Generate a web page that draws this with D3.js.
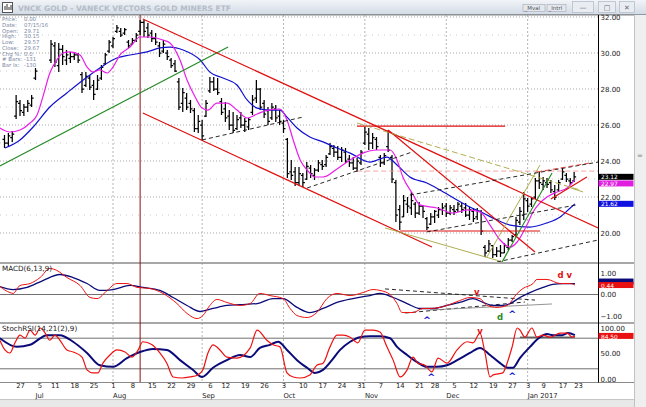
<!DOCTYPE html>
<html><head><meta charset="utf-8">
<script src="https://cdn.jsdelivr.net/npm/d3@7"></script>
<style>
html,body{margin:0;padding:0;background:#fff;overflow:hidden}
svg{display:block;font-family:"DejaVu Sans",Verdana,sans-serif}
</style></head><body>
<svg id="c" width="646" height="407"></svg>
<script>
// ---------- DATA ----------
const calMonths = ["2016-06","2016-07","2016-08","2016-09","2016-10","2016-11","2016-12","2017-01"];
const calDays = [
 [21,22,23,24,27,28,29,30],
 [1,5,6,7,8,11,12,13,14,15,18,19,20,21,22,25,26,27,28,29],
 [1,2,3,4,5,8,9,10,11,12,15,16,17,18,19,22,23,24,25,26,29,30,31],
 [1,2,6,7,8,9,12,13,14,15,16,19,20,21,22,23,26,27,28,29,30],
 [3,4,5,6,7,10,11,12,13,14,17,18,19,20,21,24,25,26,27,28,31],
 [1,2,3,4,7,8,9,10,11,14,15,16,17,18,21,22,23,25,28,29,30],
 [1,2,5,6,7,8,9,12,13,14,15,16,19,20,21,22,23,27,28,29,30],
 [3,4,5,6,9,10,11,12,13,17,18,19,20,23]
];
const tradingDays = calMonths.flatMap((m,k)=>calDays[k].map(d=>m+"-"+String(d).padStart(2,"0")));
const firstBar = -4; // bar number of the first trading day (Jun 27 2016 = 0)

const barOpen = [25.2,25.0,25.3,26.5, 27.2,26.7,27.0,27.1, 28.6,null,null,null,29.6,
 30.4,29.3,30.2,29.6,29.7, 29.8,29.9,28.8,28.2,28.6, 28.2,28.0,28.6,29.4,30.1,
 30.4,31.2,31.2,31.1,30.6, 30.5,30.7,31.2,31.7,31.4, 31.1,30.8,30.4,30.1,30.0,
 29.6,29.4,28.4,27.2,27.5, 27.2,26.8,25.8, 26.0,26.5, 27.9,28.4,28.0,27.3,
 26.9,26.5,26.0,25.8,26.4, 26.0,25.9,26.7,27.5,28.0, 27.2,26.8,26.4,26.9,26.5,
 26.1,25.2,23.4,23.4,22.8, 23.2,23.0,23.6,23.2,23.5, 23.8,23.8,24.4,24.7,24.5,
 24.2,24.5,24.1,23.9,23.6, 23.9, 25.0,25.5,25.0,25.2, 24.2,23.9,24.8,24.2,22.8,
 21.3,20.9,21.6,21.4,21.6, 21.1,21.5,20.8, 20.5, 20.9,21.0,21.3, 21.5,21.1,
 21.3,21.3,21.5,21.4,21.0, 21.2,20.9,21.2,19.2,19.0, 19.3,18.8,19.0,18.9,19.2,
 19.6,19.9,20.6,21.0, 21.8,21.6,22.0,22.9, 22.7,22.8,22.8,22.3,22.4, 23.0,23.2,22.9,22.9];
const barHigh = [25.44,25.55,25.67,27.67, 27.39,27.17,27.39,27.67, 29.17,null,null,null,30.72,
 30.61,30.55,30.44,30.17,30.06, 30.06,30.00,28.94,28.94,28.78, 28.50,28.78,29.33,30.00,30.72,
 30.89,31.56,31.39,31.39,30.72, 30.83,31.11,31.83,31.83,31.67, 31.28,31.11,30.61,30.72,30.17,
 29.72,29.61,28.61,28.06,27.78, 27.39,26.94,26.56, 26.28,27.39, 28.67,28.67,28.61,27.50,
 27.28,26.83,26.72,26.56,26.72, 26.39,26.39,27.67,28.50,28.06, 27.39,27.00,27.22,27.11,26.83,
 26.28,25.28,24.06,23.67,23.67, 23.33,23.94,23.78,23.61,24.06, 24.06,24.33,25.00,24.89,24.83,
 24.78,24.72,24.33,24.22,24.17, 24.61, 25.89,25.83,25.56,25.33, 24.33,24.44,25.72,24.33,22.94,
 21.56,22.11,22.00,22.28,21.72, 21.72,21.56,20.89, 21.11, 21.28,21.44,21.67, 21.67,21.56,
 21.56,21.72,21.67,21.67,21.44, 21.39,21.39,21.28,19.33,19.61, 19.33,19.22,19.33,19.44,19.72,
 19.89,20.89,21.44,22.28, 21.94,22.00,23.06,23.39, 23.11,23.06,22.94,22.67,22.94, 23.61,23.33,23.06,23.39];
const barLow = [24.72,24.83,25.06,26.33, 26.50,26.50,26.72,27.00, 28.50,null,null,null,29.44,
 29.22,28.94,29.33,29.33,29.44, 29.61,29.44,27.78,28.11,27.94, 27.39,27.94,28.50,29.33,30.00,
 30.28,31.11,30.89,31.00,30.28, 30.44,30.61,31.00,30.89,30.83, 30.61,30.44,29.78,30.00,29.61,
 29.17,28.94,26.83,26.72,26.83, 26.67,25.61,25.56, 25.17,26.44, 27.78,27.89,27.67,26.56,
 26.17,25.72,25.56,25.72,25.83, 25.61,25.72,26.56,27.22,26.83, 26.39,26.00,26.28,26.17,26.00,
 25.56,23.06,22.94,22.61,22.67, 22.56,22.94,23.06,22.94,23.39, 23.50,23.67,24.33,24.22,24.06,
 23.94,23.89,23.67,23.50,23.39, 23.78, 24.89,24.61,24.67,24.61, 23.67,23.78,24.50,22.78,20.61,
 20.17,20.89,21.11,21.00,20.83, 21.00,20.83,20.17, 20.44, 20.56,20.83,21.00, 20.89,21.00,
 21.00,21.17,21.11,20.89,20.72, 20.61,20.72,19.89,18.67,18.94, 18.61,18.67,18.67,18.89,19.06,
 19.50,19.78,20.44,20.72, 21.17,21.44,21.89,22.44, 22.39,22.50,22.22,21.83,22.28, 22.94,22.83,22.67,22.83];
const barClose = [25.0,25.4,25.5,27.3, 26.8,27.0,27.2,27.5, 29.0,null,null,null,30.5,
 29.5,30.2,29.8,29.9,29.8, 29.9,29.6,28.0,28.7,28.1, 27.7,28.5,29.2,29.9,30.6,
 30.8,31.4,31.0,31.3,30.4, 30.7,31.0,31.7,31.2,31.0, 30.8,30.6,30.0,30.5,29.8,
 29.3,29.0,27.0,27.8,27.0, 26.9,25.8,26.2, 25.4,27.2, 28.4,28.0,27.8,26.7,
 26.4,26.0,25.7,26.3,26.0, 26.2,26.3,27.4,28.0,27.0, 26.6,26.2,27.0,26.4,26.2,
 25.8,23.3,23.2,22.8,23.3, 22.8,23.7,23.3,23.5,23.9, 23.7,24.2,24.8,24.5,24.2,
 24.6,24.0,23.9,23.6,24.0, 24.5, 25.6,25.0,25.3,24.8, 23.9,24.3,24.6,23.0,21.0,
 20.6,21.8,21.5,21.8,21.1, 21.5,21.2,20.3, 20.9, 21.2,21.3,21.4, 21.1,21.4,
 21.2,21.6,21.3,21.0,21.3, 20.8,21.2,20.1,18.9,19.4, 18.8,19.0,18.9,19.3,19.6,
 19.8,20.7,21.2,21.9, 21.5,21.9,22.9,22.8, 22.9,22.7,22.4,22.0,22.8, 23.4,23.0,22.8,23.12];

// moving averages (bar number, value)
const maFastAt = [-5.2,-2.6,0,2.6,4.4,5.9,7.7,9.5,11.1,12.9,15.5,17.3,18.8,20.6,22.5,24,25.8,28.4,31,33.5,36.9,38.7,41.3,43.1,45.2,47,48.5,50.8,53.4,56,58.6,61.2,64,67.1,68.9,70.5,72.3,74.1,76.1,78.2,81.8,85.2,88.5,92.1,95.5,97.3,98.8,101.2,103.2,107.6,111.7,115.4,118.7,121.3,123.9,126.5,128.3,130.8,132.4,134.2,136,138.6,141.2,143.2];
const maFastVal = [25.83,25.61,25.72,26.11,26.56,27.56,28.89,29.61,30.0,30.06,29.89,29.22,28.94,29.06,28.89,29.22,29.89,30.33,30.89,30.89,30.72,30.56,29.61,28.5,27.56,26.94,26.83,27.22,27.22,26.83,26.39,26.61,26.83,26.89,26.28,25.17,24.06,23.5,23.11,23.11,23.56,24.06,24.44,24.61,24.61,24.06,23.11,22.22,21.56,21.39,21.11,21.28,21.17,20.44,19.61,19.22,19.5,20.44,21.17,21.67,22.0,22.28,22.5,22.97];
const maSlowAt = [-3.9,0,3.4,7.7,12.1,16.3,20.6,25,28.4,32.8,36.1,38.7,42.1,46.5,49,52.4,56,58.6,61.2,64.5,67.1,68.9,71.5,74.8,78.2,81.8,85.2,90.3,94.7,97.3,100.6,105,108.4,112.8,116.1,119.5,123.1,126.5,131.6,136,139.4,142,143.2];
const maSlowVal = [24.72,25.17,25.89,27.0,27.78,28.5,29.17,29.72,29.89,30.06,30.28,30.33,30.17,29.61,28.94,28.61,28.22,27.39,26.94,26.83,26.83,26.44,25.83,25.33,25.06,24.72,24.44,23.94,24.22,23.78,23.11,22.78,22.39,21.83,21.44,21.11,20.72,20.44,20.33,20.56,20.89,21.39,21.62];

// MACD(6,13,9)
const macdAt = [-5.2,-2.6,-1.8,0,2.6,5.2,7.7,9.5,12.1,15.5,18.1,19.9,22.5,25,27.6,30.2,33.5,36.9,40.5,43.1,45.7,47.2,49,50.8,53.4,56.8,59.4,61.9,64.5,67.9,69.7,71.5,74.1,76.6,79.2,81.8,85.2,88.5,91.1,92.9,95.5,97.3,98.6,101.4,104,105.8,108.4,110.2,113.5,116.1,118.7,120.5,123.1,125.7,128.3,129.8,132.4,133.4,136,139.4,142,143.2];
const macdVal = [0.37,0.09,0.05,0.42,0.51,0.79,1.21,1.12,0.79,0.42,-0.14,-0.19,0.19,0.51,0.51,0.33,0.28,0.05,-0.42,-0.88,-1.12,-0.98,-0.51,-0.23,-0.37,-0.51,-0.42,0.05,-0.05,-0.19,-0.65,-0.98,-1.07,-0.84,-0.19,0.05,-0.05,0.09,0.23,0.19,0,-0.42,-0.84,-0.84,-0.65,-0.65,-0.6,-0.51,-0.28,-0.14,-0.19,-0.51,-0.6,-0.51,0.05,0.28,0.51,0.7,0.7,0.51,0.51,0.44];
const signalAt = [-5.2,-1.8,1.8,5.9,10.3,13.7,17.3,20.6,24,28.4,31.7,36.1,39.5,43.1,46.5,49.8,53.4,56.8,61.2,65.3,67.9,71.5,74.8,78.2,81.8,85.9,90.3,92.9,96.3,99.9,103.2,106.6,110.2,113.5,116.9,119.5,122.1,124.6,126.5,129,131.6,135,137.5,140.1,143.2];
const signalVal = [0.37,0.23,0.33,0.65,0.93,0.79,0.51,0.19,0.23,0.42,0.33,0.19,-0.14,-0.51,-0.79,-0.65,-0.51,-0.47,-0.42,-0.19,-0.19,-0.6,-0.84,-0.65,-0.37,-0.19,-0.05,0.05,-0.14,-0.42,-0.65,-0.65,-0.51,-0.37,-0.19,-0.37,-0.51,-0.51,-0.42,-0.14,0.09,0.33,0.47,0.51,0.51];

// StochRSI(14,21(2),9)
const stFastAt = [-5.2,-3.9,-2.6,-1.3,0,1.3,2.6,3.9,5.2,6.5,7.7,9,10.3,12.1,13.7,16,17.3,18.8,20.1,21.4,23.2,25,27.1,28.9,30.5,31.7,34.1,36.1,37.9,39.5,41.8,43.9,45.9,47.2,48.5,49.8,51.6,53.4,56,59.4,61.2,63.7,65.3,67.1,68.9,70.5,72.3,74.8,76.6,78.2,80,81.8,83.4,85.2,87.2,89,91.1,92.9,94.7,96.3,98.1,99.9,101.4,102.7,104.5,106.3,107.9,110.2,112.8,115.4,116.9,118.7,120,121.3,122.1,124.6,125.7,127,128.3,129,130.3,132.1,133.4,135,136.8,139.4,141.2,142.5,143.2];
const stFastVal = [76,57,51,71,86,80,96,86,100,90,76,86,76,57,53,43,18,12,12,31,47,57,53,43,57,73,67,51,31,4,2,4,8,18,51,67,57,43,41,61,96,76,67,63,12,4,2,8,27,31,63,86,86,82,71,96,96,92,63,37,4,18,43,31,27,14,41,31,57,73,71,90,51,4,8,12,31,63,100,96,82,100,82,86,82,90,90,82,84.5];
const stSlowAt = [-5.2,-0.8,2.6,7,10.3,13.7,17.3,20.6,24,27.6,31,34.3,37.9,41.3,44.6,47,49.8,53.4,56.8,59.4,61.9,64.5,66.6,68.9,71.5,74.1,76.1,78.2,80.5,82.6,85.2,87.7,90.3,92.9,95.5,97.3,99.9,102.5,105,107.6,110.2,112.8,116.1,118.7,121.3,123.9,125.9,127.2,129,131.6,134.2,136,137.5,139.9,141.4,143.2];
const stSlowVal = [80,63,67,86,86,73,51,27,24,41,53,59,57,37,18,4,22,37,47,43,61,67,73,57,37,22,12,18,37,57,73,82,84,84,80,63,47,33,24,24,27,37,51,61,47,31,22,22,41,63,82,88,86,86,90,86];

// drawn trend lines [bar1, price1, bar2, price2]
const priceLines = [
 [-5.2,23.72,53.7,30.33],[31.7,31.89,149.2,20.28],[31.7,26.67,106.3,19.22],[95,25.72,132.9,18.94],
 [87,25.94,125.2,25.94],[98.1,20.11,134.2,20.11],[87,23.44,149.2,23.44],[87,26.11,144.5,22.39],
 [94.2,20.28,124.6,18.39],[120.5,18.67,134.2,23.78],[124.4,18.39,137.3,23.33],[47,25.17,73,26.44],
 [74.1,22.5,101.2,24.5],[100.6,22.11,149.2,23.94],[105,20.06,143.7,21.56],[123.1,18.39,149.2,19.61],
 [133.4,23.39,147.1,23.89],[137,21.89,146.3,23.11],[141.4,22.56,145.3,22.28]];
const priceLineKind = ["green","red","red","red","red","red","pink","oliveDash","olive","olive","green",
 "blackDash","blackDash","blackDash","blackDash","blackDash","redDash","red","olive"];
const macdLines = [[94.2,0.26,132.9,-0.26],[99.4,-0.86,130.3,-0.35],[105.8,-0.72,137.3,-0.44]];
const macdLineKind = ["blackDash","blackDash","grey"];
const stochLines = [[129,82,143.2,82]];
const markerBar = 31; // vertical marker (Aug 10 2016)

const macdMarkAt = [105,117.9,123.9,127,140.6], macdMarkVal = [-1.09,0.12,-1.05,-0.81,0.91],
      macdMarkText = ["^","v","d","^","d v"], macdMarkKind = ["blue","red","green","blue","red"];
const stMarkAt = [106.1,118.7,127], stMarkVal = [7,94,10], stMarkText = ["^","v","^"], stMarkKind = ["blue","red","blue"];

const priceTicks = [20,22,24,26,28,30,32];
const macdTicks = [-1,0,1];
const stochTicks = [0,50,100];
const tickDates = ["2016-06-27","2016-07-05","2016-07-11","2016-07-18","2016-07-25","2016-08-01","2016-08-08","2016-08-15","2016-08-22","2016-08-29","2016-09-06","2016-09-12","2016-09-19","2016-09-26","2016-10-03","2016-10-10","2016-10-17","2016-10-24","2016-10-31","2016-11-07","2016-11-14","2016-11-21","2016-11-28","2016-12-05","2016-12-12","2016-12-19","2016-12-27","2017-01-03","2017-01-09","2017-01-17","2017-01-23"];
const tickLabels = ["27","5","11","18","25","1","8","15","22","29","6","12","19","26","3","10","17","24","31","7","14","21","28","5","12","19","27","3","9","17","23"];
const monthDates = ["2016-07-01","2016-08-01","2016-09-01","2016-10-03","2016-11-01","2016-12-01","2017-01-03"];
const monthLabels = ["Jul","Aug","Sep","Oct","Nov","Dec","Jan 2017"];
const gridMonths = ["2016-08-01","2016-09-01","2016-10-03","2016-11-01","2016-12-01","2017-01-03"];

const lastClose = 23.12, lastFast = 22.97, lastSlow = 21.62, lastMacd = 0.44, lastSignal = 0.51, lastStoch = 84.5;
const infoLabels = ["Price","Date","Open","High","Low","Close","Chg %","# Bars","Bar Ix"];
const infoValues = ["0.00","07/15/16","29.71","30.15","29.57","29.67","0.0","-131","-130"];
const titleText = "VNCK GOLD - VANECK VECTORS GOLD MINERS ETF";

// ---------- LAYOUT ----------
const PR = 598; // right edge of plot
const x = d3.scaleLinear().domain([firstBar, tradingDays.length - 1 + firstBar]).range([4.5, 578]);
const barNo = d => tradingDays.indexOf(d) + firstBar;
const yP = d3.scaleLinear().domain([20,32]).range([233,17]);
const yM = d3.scaleLinear().domain([-1,1]).range([316,273]);
const yS = d3.scaleLinear().domain([0,100]).range([379,328]);

const COL = {red:"#e01010", green:"#268a26", olive:"#a6a53c", oliveDash:"#a6a53c", pink:"#f29a9a",
  blackDash:"#111", redDash:"#d83030", grey:"#888", blue:"#1010d0", magenta:"#e81ee8", navy:"#0a0a78"};
const DASH = {oliveDash:"6,3", pink:"5,3", blackDash:"4,3", redDash:"5,3"};

const svg = d3.select("#c");
const defs = svg.append("defs");
const g1 = defs.append("linearGradient").attr("id","tg").attr("x1",0).attr("y1",0).attr("x2",0).attr("y2",1);
g1.append("stop").attr("offset","0%").attr("stop-color","#f1f4f8");
g1.append("stop").attr("offset","100%").attr("stop-color","#d2dae4");
[["cp",15,247],["cm",264,58],["cs",324,58]].forEach(([id,y,h]) =>
  defs.append("clipPath").attr("id",id).append("rect").attr("x",0).attr("y",y).attr("width",PR).attr("height",h));

svg.append("rect").attr("width",646).attr("height",407).attr("fill","#fff");

// title bar
svg.append("rect").attr("x",0).attr("y",0).attr("width",646).attr("height",15).attr("fill","url(#tg)");
svg.append("line").attr("x1",0).attr("x2",646).attr("y1",14.5).attr("y2",14.5).attr("stroke","#8e98a6");
svg.append("rect").attr("x",2.5).attr("y",2.5).attr("width",10).attr("height",10).attr("fill","#fdfdfd").attr("stroke","#555");
svg.append("path").attr("d","M5,10V6M7,10V4M9,10V7M11,10V5").attr("stroke","#333").attr("stroke-width",1);
svg.append("text").attr("x",18).attr("y",10.5).attr("font-size",7.5).attr("font-weight","bold")
  .attr("fill","#b3bcc8").text(titleText);
[[523,"_Mval",22],[547,"_Intrl",19]].forEach(([bx,t,w])=>{
  svg.append("rect").attr("x",bx).attr("y",4.5).attr("width",w).attr("height",7).attr("fill","#e4e8ee").attr("stroke","#a0a8b4").attr("stroke-width",0.6);
  svg.append("text").attr("x",bx+1.5).attr("y",10).attr("font-size",5.5).attr("fill","#555").text(t);
});
[[572,21,"—"],[598,17,"□"],[619,15,"✕"]].forEach(([bx,w,t])=>{
  svg.append("rect").attr("x",bx+0.5).attr("y",1.5).attr("width",w).attr("height",11).attr("fill","#e9edf2").attr("stroke","#b0b8c4").attr("stroke-width",0.7);
  svg.append("text").attr("x",bx+w/2+0.5).attr("y",10).attr("text-anchor","middle").attr("font-size",7).attr("fill","#667").text(t);
});

// right strip and bottom band
svg.append("rect").attr("x",634).attr("y",15).attr("width",12).attr("height",392).attr("fill","#efefef");
svg.append("line").attr("x1",634.5).attr("x2",634.5).attr("y1",15).attr("y2",407).attr("stroke","#c2c2c2");
svg.append("text").attr("x",640).attr("y",158).attr("text-anchor","middle").attr("font-size",7).attr("fill","#888").text("=");
svg.append("rect").attr("x",0).attr("y",399.5).attr("width",634).attr("height",8).attr("fill","#e8e8e8");
svg.append("line").attr("x1",0).attr("x2",634).attr("y1",399.5).attr("y2",399.5).attr("stroke","#c6c6c6");

// grid
const grid = svg.append("g");
d3.range(20,33).forEach(p => grid.append("line").attr("x1",0).attr("x2",PR).attr("y1",yP(p)).attr("y2",yP(p))
  .attr("stroke", p%2===0 ? "#a8a8a8" : "#c8c8c8").attr("stroke-dasharray", p%2===0 ? "1,2" : "1,5"));
gridMonths.forEach(d => grid.append("line").attr("x1",x(barNo(d))).attr("x2",x(barNo(d))).attr("y1",15).attr("y2",382)
  .attr("stroke","#b4b4b4").attr("stroke-dasharray","2,2"));
grid.append("line").attr("x1",0).attr("x2",PR).attr("y1",yM(0)).attr("y2",yM(0)).attr("stroke","#707070");
[20,80].forEach(v => grid.append("line").attr("x1",0).attr("x2",PR).attr("y1",yS(v)).attr("y2",yS(v)).attr("stroke","#707070"));

// panel borders
[[15,"#8a8a8a",1],[263,"#8a8a8a",1.6],[323,"#8a8a8a",1.6],[382.5,"#8a8a8a",1]].forEach(([y,c,w]) =>
  svg.append("line").attr("x1",0).attr("x2",634).attr("y1",y).attr("y2",y).attr("stroke",c).attr("stroke-width",w));
svg.append("line").attr("x1",PR+0.5).attr("x2",PR+0.5).attr("y1",15).attr("y2",382.5).attr("stroke","#000");

// vertical marker
svg.append("line").attr("x1",x(markerBar)).attr("x2",x(markerBar)).attr("y1",15).attr("y2",382)
  .attr("stroke","#8a1010").attr("stroke-width",1);

// OHLC bars
const barIdx = d3.range(barHigh.length).filter(k => barHigh[k] != null);
svg.append("g").attr("clip-path","url(#cp)").selectAll("path").data(barIdx).join("path")
  .attr("d", k => { const xi = x(k + firstBar);
    return `M${xi},${yP(barHigh[k])}V${yP(barLow[k])}M${xi-2},${yP(barOpen[k])}H${xi}M${xi},${yP(barClose[k])}H${xi+2}`; })
  .attr("stroke","#000").attr("stroke-width",1.25).attr("fill","none");

// series helper
function series(g, at, val, y, color, width) {
  const pts = at.map((a,k)=>[x(a), y(val[k])]);
  g.append("path").attr("d", d3.line().curve(d3.curveMonotoneX)(pts))
   .attr("fill","none").attr("stroke",color).attr("stroke-width",width).attr("stroke-linejoin","round");
}
const gP = svg.append("g").attr("clip-path","url(#cp)");
series(gP, maSlowAt, maSlowVal, yP, COL.blue, 1.2);
series(gP, maFastAt, maFastVal, yP, COL.magenta, 1.2);

function drawLines(g, lines, kinds, y) {
  lines.forEach((l,k) => {
    const kind = kinds[k];
    g.append("line").attr("x1",x(l[0])).attr("y1",y(l[1])).attr("x2",x(l[2])).attr("y2",y(l[3]))
     .attr("stroke",COL[kind]).attr("stroke-width", kind==="red"||kind==="green" ? 1.2 : 0.9)
     .attr("stroke-dasharray", DASH[kind] || null);
  });
}
drawLines(gP, priceLines, priceLineKind, yP);

const gM = svg.append("g").attr("clip-path","url(#cm)");
drawLines(gM, macdLines, macdLineKind, yM);
series(gM, signalAt, signalVal, yM, COL.navy, 1.3);
series(gM, macdAt, macdVal, yM, "#ee1111", 1);

const gS = svg.append("g").attr("clip-path","url(#cs)");
drawLines(gS, stochLines, ["grey"], yS);
gS.select("line").attr("stroke","#111");
series(gS, stSlowAt, stSlowVal, yS, COL.navy, 2);
series(gS, stFastAt, stFastVal, yS, "#ee1111", 1.2);

// markers
function marks(g, at, val, txt, kind, y) {
  at.forEach((a,k) => {
    const up = txt[k] === "^";
    g.append("text").attr("x",x(a)).attr("y",y(val[k]) + (up ? 5 : 3)).attr("text-anchor","middle")
     .attr("font-size", up ? 9.5 : 8.5).attr("font-weight","bold").attr("fill",COL[kind[k]]).text(txt[k]);
  });
}
marks(svg, macdMarkAt, macdMarkVal, macdMarkText, macdMarkKind, yM);
marks(svg, stMarkAt, stMarkVal, stMarkText, stMarkKind, yS);

// right axes
function rightAxis(scale, ticks, fmt) {
  const g = svg.append("g").attr("transform",`translate(${PR},0)`)
    .call(d3.axisRight(scale).tickValues(ticks).tickFormat(fmt).tickSize(0).tickPadding(2.5));
  g.select(".domain").remove();
  g.selectAll("text").attr("font-size",7).attr("fill","#222").attr("font-family","DejaVu Sans, sans-serif");
}
rightAxis(yP, priceTicks, d3.format(".2f"));
rightAxis(yM, macdTicks, d3.format(".2f"));
rightAxis(yS, stochTicks, d3.format(".2f"));

// value tags
function tag(yc, fill, txt) {
  svg.append("rect").attr("x",PR+0.5).attr("y",yc-3).attr("width",35).attr("height",6).attr("fill",fill);
  if (txt) svg.append("text").attr("x",PR+3).attr("y",yc+2.6).attr("font-size",5.9).attr("fill","#fff").text(txt);
}
const yClose = yP(lastClose);
tag(yClose, "#000", lastClose.toFixed(2));
tag(Math.max(yP(lastFast), yClose + 6.6), "#e01ee0", lastFast.toFixed(2));
tag(yP(lastSlow), "#1010e0", lastSlow.toFixed(2));
const yMac = yM(lastMacd);
tag(Math.min(yM(lastSignal), yMac - 3.5), COL.navy, "");
tag(yMac, "#e81010", lastMacd.toFixed(2));
tag(yS(lastStoch), "#e81010", lastStoch.toFixed(2));

// panel titles
svg.append("text").attr("x",2).attr("y",271).attr("font-size",7.2).attr("fill","#222").text("MACD(6,13,9)");
svg.append("text").attr("x",2).attr("y",331).attr("font-size",7.2).attr("fill","#222").text("StochRSI(14,21(2),9)");

// x axis
const xa = svg.append("g").attr("transform","translate(0,383.5)")
  .call(d3.axisBottom(x).tickValues(tickDates.map(barNo)).tickFormat((d,k)=>tickLabels[k]).tickSize(0).tickPadding(0));
xa.select(".domain").remove();
xa.selectAll("text").attr("font-size",6.8).attr("fill","#222").attr("font-family","DejaVu Sans, sans-serif");
svg.selectAll(null).data(monthDates).join("text").attr("x", d => x(barNo(d))).attr("y",397.5)
  .attr("font-size",6.8).attr("fill","#222").text((d,k)=>monthLabels[k]);

// info box
infoLabels.forEach((t,k) => {
  svg.append("text").attr("x",2).attr("y",21 + k*5.75).attr("font-size",5.4).attr("fill","#7d8aa6").text(t + ":");
  svg.append("text").attr("x",24).attr("y",21 + k*5.75).attr("font-size",5.4).attr("fill","#7d8aa6").text(infoValues[k]);
});
</script>
</body></html>
